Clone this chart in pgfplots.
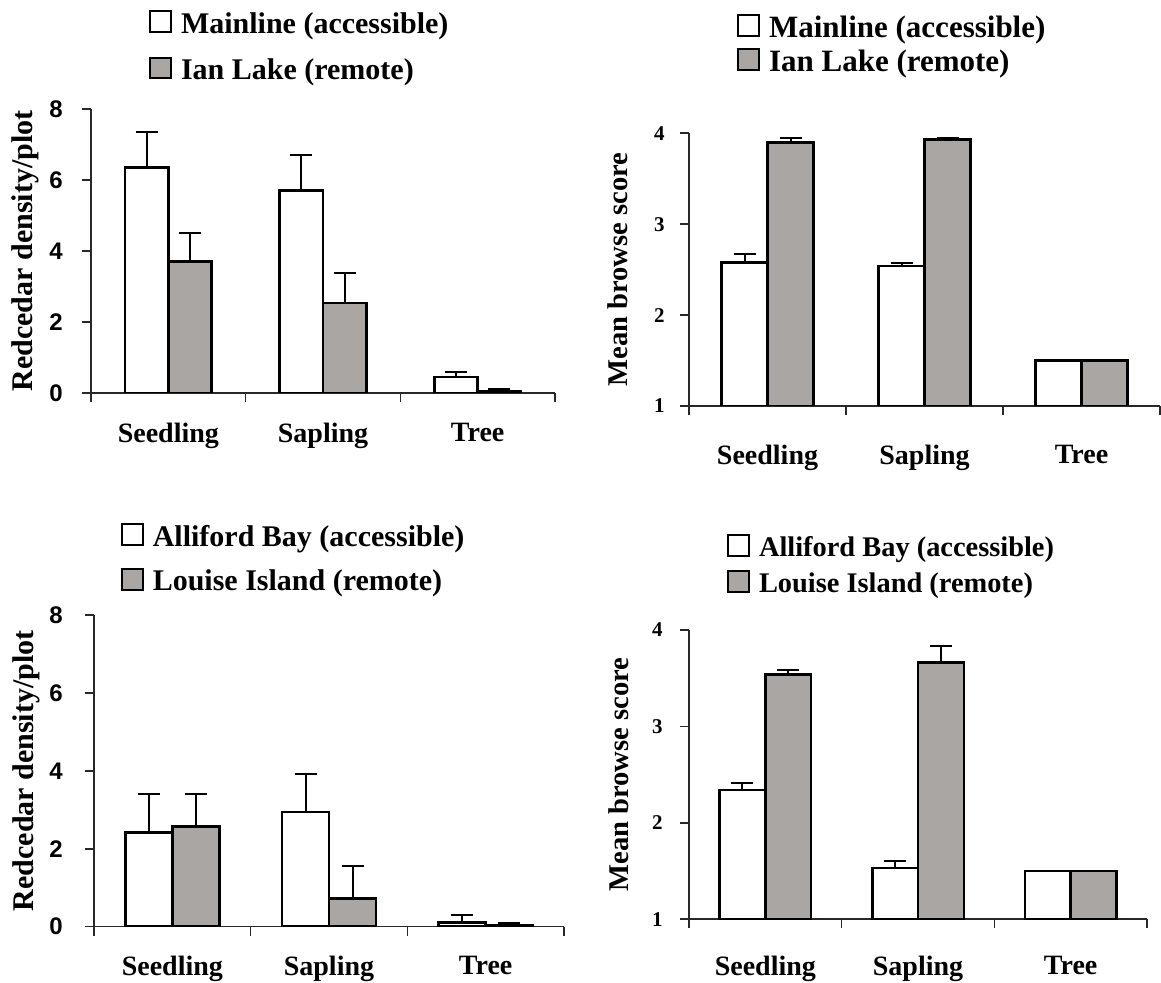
\documentclass[border=0pt]{standalone}
\usepackage{fontspec}
\setmainfont{Liberation Serif}
\newfontfamily\lsans{Liberation Sans}
\usepackage{pgfplots}
\usepackage{pgfplotstable}
\pgfplotsset{compat=1.18}
\definecolor{barg}{RGB}{170,166,163}
\definecolor{axc}{RGB}{40,40,40}

% Panel A: Mainline vs Ian Lake, density
\pgfplotstableread{
x y e
0 6.35 1.00
1 5.70 1.00
2 0.45 0.15
}\pAw
\pgfplotstableread{
x y e
0 3.70 0.80
1 2.53 0.86
2 0.05 0.07
}\pAg
% Panel B: Mainline vs Ian Lake, browse score
\pgfplotstableread{
x y e
0 2.58 0.09
1 2.54 0.03
2 1.50 0.00
}\pBw
\pgfplotstableread{
x y e
0 3.90 0.05
1 3.93 0.02
2 1.50 0.00
}\pBg
% Panel C: Alliford Bay vs Louise Island, density
\pgfplotstableread{
x y e
0 2.42 0.98
1 2.94 0.98
2 0.11 0.19
}\pCw
\pgfplotstableread{
x y e
0 2.57 0.83
1 0.72 0.84
2 0.04 0.06
}\pCg
% Panel D: Alliford Bay vs Louise Island, browse score
\pgfplotstableread{
x y e
0 2.34 0.07
1 1.53 0.07
2 1.50 0.00
}\pDw
\pgfplotstableread{
x y e
0 3.54 0.05
1 3.66 0.17
2 1.50 0.00
}\pDg

\pgfplotsset{
 panel/.style={
  scale only axis,
  axis x line=bottom, axis y line=left,
  axis line style={-, line width=0.8pt, draw=axc},
  tick style={line width=0.8pt, draw=axc},
  tick align=outside,
  major tick length=4.5pt,
  xmin=-0.5, xmax=2.5,
  xtick={-0.5,0.5,1.5,2.5}, xticklabels={,,,},
  extra x ticks={0,1,2}, extra x tick labels={Seedling,Sapling,Tree},
  extra x tick style={tick style={draw=none}},
  xticklabel style={font=\bfseries\fontsize{14pt}{14pt}\selectfont, inner sep=0pt, anchor=north},
  yticklabel style={inner sep=0pt, anchor=east},
  ylabel style={anchor=center},
  /pgf/number format/assume math mode=true,
  ybar,
  legend style={draw=none, fill=none, anchor=north west, inner sep=0pt, outer sep=0pt,
    nodes={inner sep=0pt}, column sep=4.5pt},
  legend cell align=left,
 },
 errs/.style={/pgfplots/error bars/y dir=plus, /pgfplots/error bars/y explicit,
   /pgfplots/error bars/error bar style={line width=1pt, draw=black},
   /pgfplots/error bars/error mark options={rotate=90, mark size=5.5pt, line width=1pt, draw=black}},
 bw/.style={fill=white, draw=black, line width=1.3pt, forget plot, errs},
 bg/.style={fill=barg, draw=black, line width=1.3pt, forget plot, errs},
}
\newcommand{\legw}{\addlegendimage{legend image code/.code={\draw[fill=white,draw=black,line width=1pt] (0pt,-3.8pt) rectangle (10.5pt,6.5pt);}}}
\newcommand{\legg}{\addlegendimage{legend image code/.code={\draw[fill=barg,draw=black,line width=1pt] (0pt,-3.8pt) rectangle (10.5pt,6.5pt);}}}

\begin{document}
\begin{tikzpicture}
\useasboundingbox (0,0) rectangle (580.5pt,491.5pt);

% ---------- Panel A ----------
\begin{axis}[panel,
  at={(45.5pt,295pt)}, anchor=south west,
  width=232pt, height=142pt,
  ymin=0, ymax=8, ytick={0,2,4,6,8},
  bar width=0.28,
  yticklabel style={font=\lsans\bfseries\fontsize{12pt}{12pt}\selectfont, xshift=-9.5pt},
  xticklabel style={yshift=-10.5pt},
  ylabel={Redcedar density/plot},
  ylabel style={at={(axis description cs:-0.142,0.5)}, font=\bfseries\fontsize{15pt}{15pt}\selectfont},
  legend style={at={(axis description cs:0.125,1.348)}, row sep=10.3pt, font=\bfseries\fontsize{15pt}{15pt}\selectfont},
]
\legw \addlegendentry{Mainline (accessible)}
\legg \addlegendentry{Ian Lake (remote)}
\addplot[bar shift=-0.14, bw] table[x=x, y=y, y error=e]{\pAw};
\addplot[bar shift=0.14, bg] table[x=x, y=y, y error=e]{\pAg};
\end{axis}

% ---------- Panel B ----------
\begin{axis}[panel,
  at={(344.5pt,288.5pt)}, anchor=south west,
  width=235.5pt, height=136.35pt,
  ymin=1, ymax=4, ytick={1,2,3,4},
  bar width=0.293,
  yticklabel style={font=\bfseries\fontsize{10.5pt}{10.5pt}\selectfont, xshift=-7.5pt},
  xticklabel style={yshift=-15pt},
  ylabel={Mean browse score},
  ylabel style={at={(axis description cs:-0.151,0.5)}, font=\bfseries\fontsize{14.3pt}{14.3pt}\selectfont},
  legend style={at={(axis description cs:0.102,1.437)}, row sep=3.8pt, font=\bfseries\fontsize{15.5pt}{15.5pt}\selectfont},
]
\legw \addlegendentry{Mainline (accessible)}
\legg \addlegendentry{Ian Lake (remote)}
\addplot[bar shift=-0.1465, bw] table[x=x, y=y, y error=e]{\pBw};
\addplot[bar shift=0.1465, bg] table[x=x, y=y, y error=e]{\pBg};
\end{axis}

% ---------- Panel C ----------
\begin{axis}[panel,
  at={(47pt,28.15pt)}, anchor=south west,
  width=235pt, height=155.85pt,
  ymin=0, ymax=8, ytick={0,2,4,6,8},
  bar width=0.30,
  yticklabel style={font=\lsans\bfseries\fontsize{12pt}{12pt}\selectfont, xshift=-11pt},
  xticklabel style={yshift=-10pt},
  ylabel={Redcedar density/plot},
  ylabel style={at={(axis description cs:-0.145,0.5)}, font=\bfseries\fontsize{15pt}{15pt}\selectfont},
  legend style={at={(axis description cs:0.057,1.294)}, row sep=9.3pt, font=\bfseries\fontsize{15pt}{15pt}\selectfont},
]
\legw \addlegendentry{Alliford Bay (accessible)}
\legg \addlegendentry{Louise Island (remote)}
\addplot[bar shift=-0.15, bw] table[x=x, y=y, y error=e]{\pCw};
\addplot[bar shift=0.15, bg] table[x=x, y=y, y error=e]{\pCg};
\end{axis}

% ---------- Panel D ----------
\begin{axis}[panel,
  at={(344.5pt,31.85pt)}, anchor=south west,
  width=229pt, height=144.65pt,
  ymin=1, ymax=4, ytick={1,2,3,4},
  bar width=0.30,
  yticklabel style={font=\bfseries\fontsize{10.5pt}{10.5pt}\selectfont, xshift=-8.5pt},
  xticklabel style={yshift=-13.5pt},
  ylabel={Mean browse score},
  ylabel style={at={(axis description cs:-0.153,0.5)}, font=\bfseries\fontsize{14.3pt}{14.3pt}\selectfont},
  legend style={at={(axis description cs:0.083,1.332)}, row sep=5.5pt, font=\bfseries\fontsize{14.2pt}{14.2pt}\selectfont},
]
\legw \addlegendentry{Alliford Bay (accessible)}
\legg \addlegendentry{Louise Island (remote)}
\addplot[bar shift=-0.15, bw] table[x=x, y=y, y error=e]{\pDw};
\addplot[bar shift=0.15, bg] table[x=x, y=y, y error=e]{\pDg};
\end{axis}
\end{tikzpicture}
\end{document}
